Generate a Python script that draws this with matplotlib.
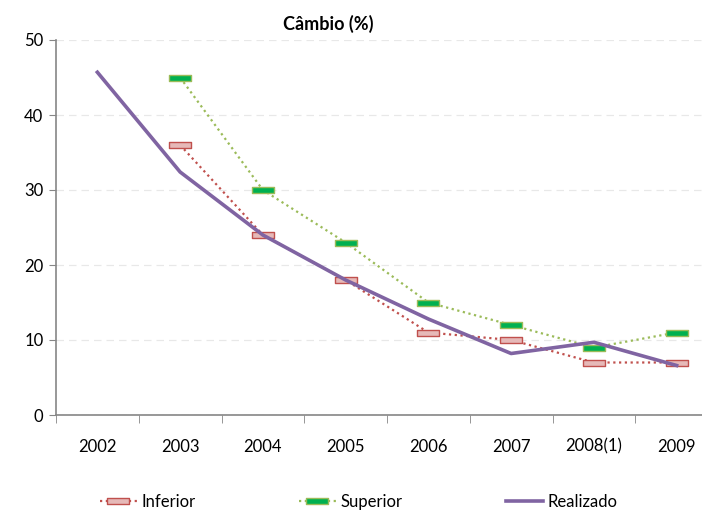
import numpy as np
import matplotlib.pyplot as plt
from matplotlib.path import Path
from matplotlib.ticker import FixedLocator

# dados
anos = ["2002", "2003", "2004", "2005", "2006", "2007", "2008(1)", "2009"]
inferior = [np.nan, 36, 24, 18, 11, 10, 7, 7]
superior = [np.nan, 45, 30, 23, 15, 12, 9, 11]
realizado = [45.7, 32.4, 24.0, 18.0, 12.8, 8.2, 9.7, 6.6]

plt.rcParams['font.family'] = ['Lato', 'DejaVu Sans']

# marcador retangular (tracinho)
rect = Path([(-1, -0.25), (1, -0.25), (1, 0.25), (-1, 0.25), (-1, -0.25)],
            [Path.MOVETO, Path.LINETO, Path.LINETO, Path.LINETO, Path.CLOSEPOLY])

fig = plt.figure(figsize=(7.02, 5.16), dpi=100)
ax = fig.add_axes([56 / 702, 1 - 415 / 516, 662 / 702, 375 / 516])

x = np.arange(len(anos))
ax.plot(x, inferior, linestyle=(0, (1, 1.6)), color='#C0504D', lw=1.6,
        marker=rect, markersize=16, markerfacecolor='#E6B9B8',
        markeredgecolor='#C0504D', markeredgewidth=1.0, label='Inferior')
ax.plot(x, superior, linestyle=(0, (1, 1.6)), color='#9BBB59', lw=1.6,
        marker=rect, markersize=16, markerfacecolor='#00B050',
        markeredgecolor='#9BBB59', markeredgewidth=1.0, label='Superior')
ax.plot(x, realizado, color='#8064A2', lw=2.6, label='Realizado')

ax.set_xlim(-0.5, len(anos) - 0.5)
ax.set_ylim(0, 50)
ax.set_yticks(range(0, 51, 10))
ax.set_xticks(x)
ax.set_xticklabels(anos, fontsize=12)
ax.xaxis.set_minor_locator(FixedLocator(np.arange(-0.5, len(anos), 1)))
ax.tick_params(axis='x', which='major', length=0, pad=17)
ax.tick_params(axis='x', which='minor', length=6, color='#868686')
ax.tick_params(axis='y', length=5, color='#868686', labelsize=12, pad=4)

ax.yaxis.grid(True, linestyle=(0, (6, 4)), color='#E8E8E8', lw=0.9)
ax.set_axisbelow(True)
for s in ['top', 'right']:
    ax.spines[s].set_visible(False)
for s in ['left', 'bottom']:
    ax.spines[s].set_color('#868686')
    ax.spines[s].set_linewidth(1.2)

fig.text(328 / 702, 1 - 24 / 516, "Câmbio (%)", ha='center', va='center',
         fontsize=13, fontweight='bold')

fig.legend(loc='center left', bbox_to_anchor=(100 / 702, 1 - 502 / 516), ncol=3,
           frameon=False, fontsize=12, columnspacing=6.2, handlelength=2.2,
           handletextpad=0.3, borderpad=0, borderaxespad=0)

fig.savefig("out.png", dpi=100)
